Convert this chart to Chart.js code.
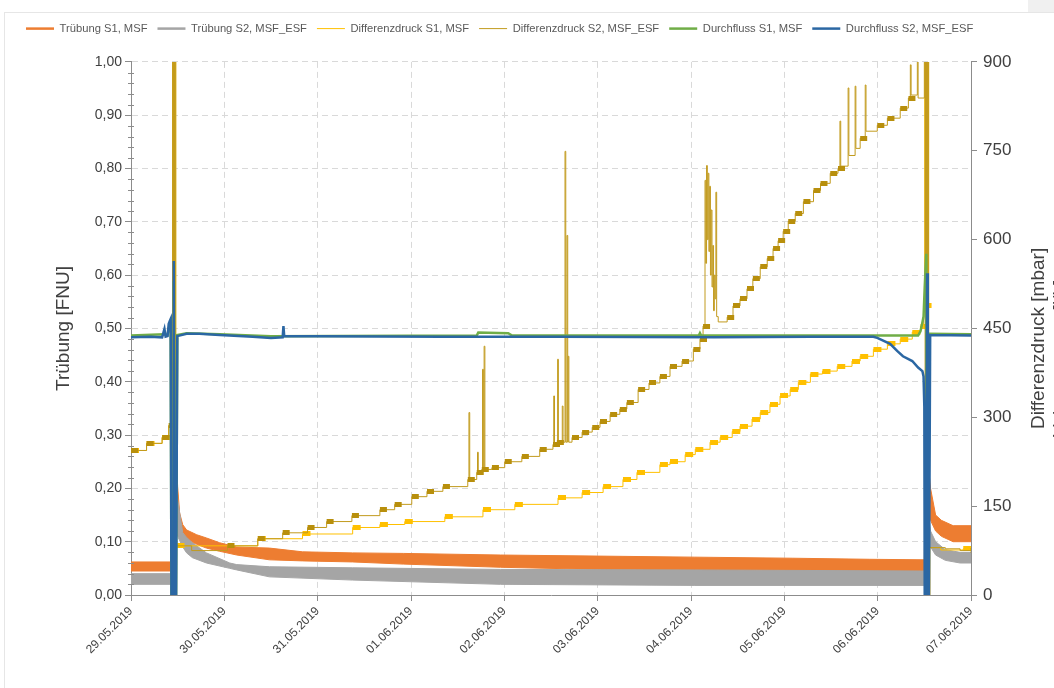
<!DOCTYPE html>
<html>
<head>
<meta charset="utf-8">
<script src="https://cdn.jsdelivr.net/npm/chart.js@4.4.1/dist/chart.umd.min.js"></script>
<style>
  html, body { margin: 0; padding: 0; background: #fff; overflow: hidden; }
  #wrap { position: absolute; left: 0; top: 0; width: 1054px; height: 688px; }
  #frame { position: absolute; left: 4px; top: 12px; width: 1100px; height: 700px;
           border-left: 1px solid #e6e6e6; border-top: 1px solid #e6e6e6; pointer-events: none; }
  #corner { position: absolute; left: 1028px; top: 0; width: 26px; height: 12px; background: #f0f0f0; }
</style>
</head>
<body>
<div id="wrap"><canvas id="c"></canvas></div>
<div id="frame"></div><div id="corner"></div>
<script>
// ---------- labels ----------
const dateLabels = ['29.05.2019','30.05.2019','31.05.2019','01.06.2019','02.06.2019',
                    '03.06.2019','04.06.2019','05.06.2019','06.06.2019','07.06.2019'];
const fnuLabels = ['0,00','0,10','0,20','0,30','0,40','0,50','0,60','0,70','0,80','0,90','1,00'];
const rightTitles = ['Differenzdruck [mbar]', 'Volumenstrom [l/h]'];

// ---------- data (x = hours since 29.05.2019 00:00) ----------
// Trübung S1 (band: upper / lower envelope of the noisy signal) [FNU]
const truebS1Hours = [0,10.5,10.7,11.7,12.0,12.5,13.3,14.3,16.9,19.4,22.8,27.2,35.6,44.1,57.0,70.0,95.0,120.0,145.0,170.0,190.0,204.0,204.3,205.6,206.9,208.4,211.4,216.0];
const truebS1Upper = [0.062,0.062,0.35,0.25,0.203,0.154,0.132,0.122,0.113,0.107,0.098,0.090,0.088,0.081,0.079,0.078,0.075,0.073,0.071,0.069,0.067,0.066,0.30,0.20,0.15,0.14,0.13,0.13];
const truebS1Lower = [0.045,0.045,0.10,0.15,0.14,0.12,0.11,0.104,0.095,0.088,0.082,0.075,0.066,0.064,0.062,0.058,0.052,0.048,0.046,0.045,0.044,0.044,0.15,0.14,0.12,0.11,0.10,0.10];

// Trübung S2 [FNU]
const truebS2Hours = [0,10.5,10.7,11.7,12.0,13.3,14.3,15.8,19.4,25.4,27.2,35.6,57.0,95.0,145.0,204.0,204.3,205.6,206.9,209.4,213.2,216.0];
const truebS2Upper = [0.040,0.040,0.25,0.25,0.179,0.117,0.108,0.098,0.079,0.060,0.057,0.053,0.051,0.048,0.047,0.045,0.20,0.12,0.10,0.085,0.08,0.08];
const truebS2Lower = [0.020,0.020,0.08,0.12,0.11,0.09,0.079,0.070,0.060,0.050,0.047,0.034,0.028,0.020,0.018,0.018,0.08,0.09,0.075,0.065,0.06,0.06];

// Differenzdruck S1 [mbar]  (hour, value)
const dpS1 = [
 [0,244],[4.0,256],[8.0,266],[9.7,286],[10.7,1000],[10.9,0],[11.0,1000],[11.2,0],[11.3,1000],[11.5,0],[11.7,83],
 [32.6,95],[44.1,103],[57.0,114],[64.0,119],[70.4,124],[80.7,132],[90.5,144],[98.7,153],[109.8,164],
 [116.0,173],[121.4,183],[126.5,195],[130.1,207],[136.0,220],[138.6,225],[142.5,237],[145.1,246],
 [148.9,258],[151.5,266],[154.6,276],[156.6,285],[159.7,297],[161.8,308],[164.3,322],[166.9,336],
 [169.5,347],[171.6,359],[174.7,373],[177.8,378],[181.6,386],[185.4,395],[187.5,403],[190.9,415],
 [194.5,424],[197.8,432],[200.9,444],[203.0,454],[203.8,488],[204.1,1000],[204.3,0],[204.4,1000],
 [204.6,0],[204.7,1000],[205.1,0],[205.4,80],[208.2,76],[214.0,78],[215.9,78]
];

// Differenzdruck S2 [mbar]
const dpS2 = [
 [0,244],[4.0,256],[8.0,266],[9.7,286],[10.7,1000],[10.9,0],[11.0,1000],[11.2,0],[11.3,1000],[11.5,0],[11.7,83],
 [15.6,75],[24.8,83],[32.6,95],[39.0,105],[45.4,114],[50.3,124],[56.8,134],[64.0,144],[67.8,153],
 [72.2,166],[76.1,175],[80.2,183],
 [86.6,195],[86.9,308],[87.1,195],[88.9,207],[89.1,241],[89.3,207],[90.2,212],[90.4,381],[90.6,212],
 [90.8,420],[91.0,212],[92.8,215],[96.1,225],[100.5,234],[105.1,246],[108.5,254],[108.7,336],[108.9,254],
 [109.5,258],[109.7,398],[109.9,258],[110.9,319],[111.1,258],[111.6,749],[111.8,258],[112.1,607],
 [112.3,258],[112.4,403],[112.6,258],
 [113.4,266],[116.0,275],[118.6,283],[120.6,293],[123.2,305],[125.7,314],[127.5,325],[130.4,347],
 [133.2,358],[136.0,369],[138.6,386],[141.7,395],[144.6,415],[146.3,432],[147.1,454],
 [147.6,700],[147.8,560],[148.0,725],[148.2,600],[148.4,712],[148.6,580],[148.8,690],[149.0,540],
 [149.2,650],[149.4,520],[149.6,590],[149.8,480],[150.0,540],[150.2,500],[150.4,680],[150.6,470],
 [151.0,461],[153.3,469],[154.8,488],[156.6,500],[158.4,517],[159.9,534],[161.8,554],[163.6,568],
 [165.1,585],[166.4,598],[167.7,614],[169.0,631],[170.8,644],[172.9,664],[175.5,683],[177.3,695],
 [179.8,712],[181.8,720],
 [182.3,800],[182.5,724],[184.4,856],[184.6,742],[186.2,859],[186.4,754],[187.5,771],[188.8,861],[189.0,783],
 [191.9,793],[194.5,805],[197.8,822],[199.9,839],[200.4,895],[200.6,844],[202.2,900],[202.4,839],
 [204.0,1000],[204.2,0],[204.3,1000],[204.5,0],[204.6,1000],[204.8,0],[204.9,1000],[205.1,0],
 [205.4,80],[209.4,78],[213.2,75],[215.9,75]
];

// Durchfluss S1 [l/h]
const flowS1 = [
 [0,438],[8.6,440],[9.4,439],[9.7,450],[10.2,460],[10.4,0],[10.9,0],[11.0,530],[11.3,0],[11.6,0],
 [11.9,439],[14.3,442],[22.8,440],[36.0,437],[88.9,438],[89.3,443],[97.0,442],[98.0,438],
 [146.0,438],[146.3,442],[146.6,438],[190.0,438],[202.4,438],[203.0,445],[203.5,460],[203.8,470],
 [204.1,520],[204.5,576],[204.7,0],[205.0,0],[205.3,441],[216.0,440]
];

// Durchfluss S2 [l/h]
const flowS2 = [
 [0,435],[5.0,436],[8.0,435],[8.6,449],[8.9,436],[9.4,437],[9.7,458],[10.0,463],[10.2,466],
 [10.4,0],[10.8,0],[11.0,564],[11.2,0],[11.6,0],[11.9,437],[14.3,441],[17.6,441],[22.8,439],
 [31.3,436],[36.0,434],[39.0,435],[39.2,454],[39.4,437],[48.5,437],[80.0,436],[110.0,436],
 [150.0,435],[175.0,436],[190.9,436],[191.9,434],[195.2,424],[197.0,412],[198.5,403],[200.9,395],
 [202.4,384],[203.5,378],[203.8,369],[204.0,318],[204.1,0],[204.5,0],[204.7,543],[204.9,0],
 [205.2,0],[205.5,439],[216.0,438]
];

// ---------- styles ----------
const COLORS = { orange:'#ED7D31', gray:'#A5A5A5', yellow:'#FFC000', gold:'#C29B1E',
                 green:'#70AD47', blue:'#2B67A3', axis:'#8C8C8C', grid:'#D9D9D9', text:'#404040' };
const FONT = '"Liberation Sans", Arial, Helvetica, sans-serif';
Chart.defaults.font.family = FONT;
Chart.defaults.color = COLORS.text;

const toXY = (hours, vals) => hours.map((h, i) => ({ x: h, y: vals[i] }));
const pairs = arr => arr.map(p => ({ x: p[0], y: p[1] }));

function rectMarker(color, w, h) {
  const c = document.createElement('canvas');
  c.width = 2 * w + 2; c.height = h;
  const g = c.getContext('2d');
  g.fillStyle = color;
  g.fillRect(w + 1, 0, w, h);
  return c;
}
function stepMarkerRadius(ctx) {
  const d = ctx.dataset.data, i = ctx.dataIndex;
  if (i === 0) return 3;
  const cur = d[i].y, prev = d[i - 1].y;
  const next = i + 1 < d.length ? d[i + 1].y : cur;
  const ok = (cur >= prev || prev === 0) && (cur - prev < 40 || prev === 0) && next >= cur - 0.5;
  return ok ? 3 : 0;
}

const datasets = [
  { label:'Trübung S1, MSF', data: toXY(truebS1Hours, truebS1Upper), yAxisID:'y',
    borderColor: COLORS.orange, backgroundColor: COLORS.orange, borderWidth: 1, pointRadius: 0,
    fill: false, order: 6, legendWidth: 2.5 },
  { label:'Trübung S1, MSF (min)', data: toXY(truebS1Hours, truebS1Lower), yAxisID:'y',
    borderColor: COLORS.orange, backgroundColor: COLORS.orange, borderWidth: 1, pointRadius: 0,
    fill: '-1', order: 6, legendHidden: true },
  { label:'Trübung S2, MSF_ESF', data: toXY(truebS2Hours, truebS2Upper), yAxisID:'y',
    borderColor: COLORS.gray, backgroundColor: COLORS.gray, borderWidth: 1, pointRadius: 0,
    fill: false, order: 5, legendWidth: 2.5 },
  { label:'Trübung S2, MSF_ESF (min)', data: toXY(truebS2Hours, truebS2Lower), yAxisID:'y',
    borderColor: COLORS.gray, backgroundColor: COLORS.gray, borderWidth: 1, pointRadius: 0,
    fill: '-1', order: 5, legendHidden: true },
  { label:'Differenzdruck S1, MSF', data: pairs(dpS1), yAxisID:'yP',
    borderColor: COLORS.yellow, backgroundColor: COLORS.yellow, borderWidth: 1, stepped: 'before',
    pointStyle: rectMarker(COLORS.yellow, 8, 5), pointRadius: stepMarkerRadius, fill: false, order: 4 },
  { label:'Differenzdruck S2, MSF_ESF', data: pairs(dpS2), yAxisID:'yP',
    borderColor: COLORS.gold, backgroundColor: COLORS.gold, borderWidth: 1, stepped: 'before',
    pointStyle: rectMarker('#B88F0C', 7, 5), pointRadius: stepMarkerRadius, fill: false, order: 3 },
  { label:'Durchfluss S1, MSF', data: pairs(flowS1), yAxisID:'yQ',
    borderColor: COLORS.green, backgroundColor: COLORS.green, borderWidth: 2.5, pointRadius: 0,
    fill: false, order: 2 },
  { label:'Durchfluss S2, MSF_ESF', data: pairs(flowS2), yAxisID:'yQ',
    borderColor: COLORS.blue, backgroundColor: COLORS.blue, borderWidth: 2.5, pointRadius: 0,
    fill: false, order: 1 }
];

const LEGEND_EXTRA = 17.7;
const LEGEND_LEFT = 16;

const layoutTweak = {
  id: 'layoutTweak',
  beforeLayout(chart) {
    const lg = chart.legend;
    if (lg && !lg.__tweaked) {
      const fit = lg.fit;
      lg.fit = function () { fit.call(this); this.height += LEGEND_EXTRA; };
      lg.__tweaked = true;
    }
  },
  afterLayout(chart) {
    if (chart.legend) chart.legend.left = LEGEND_LEFT;
  }
};

const extras = {
  id: 'extras',
  afterDraw(chart) {
    const { ctx, chartArea, scales } = chart;
    const y = scales.y;
    ctx.save();
    ctx.strokeStyle = COLORS.axis;
    ctx.lineWidth = 1;
    for (let k = 0; k <= 50; k++) {
      if (k % 5 === 0) continue;
      const py = Math.round(y.getPixelForValue(k / 50)) + 0.5;
      ctx.beginPath();
      ctx.moveTo(chartArea.left - 3, py);
      ctx.lineTo(chartArea.left + 3, py);
      ctx.stroke();
    }
    ctx.fillStyle = COLORS.text;
    ctx.font = '19px ' + FONT;
    ctx.textAlign = 'center';
    ctx.textBaseline = 'middle';
    const cy = (chartArea.top + chartArea.bottom) / 2 + 10;
    [[rightTitles[0], 1039, cy], [rightTitles[1], 1061, cy + 20]].forEach(([t, x, yy]) => {
      ctx.save(); ctx.translate(x, yy); ctx.rotate(-Math.PI / 2); ctx.fillText(t, 0, 0); ctx.restore();
    });
    ctx.restore();
  }
};

new Chart(document.getElementById('c'), {
  type: 'line',
  data: { datasets },
  plugins: [layoutTweak, extras],
  options: {
    responsive: true,
    maintainAspectRatio: false,
    animation: false,
    events: [],
    layout: { padding: { top: 13, left: 0, right: 0, bottom: 0 } },
    elements: { line: { tension: 0 } },
    plugins: {
      tooltip: { enabled: false },
      legend: {
        position: 'top',
        align: 'start',
        labels: {
          usePointStyle: true, pointStyle: 'line', pointStyleWidth: 28, padding: 10,
          color: '#595959', font: { size: 11.2 },
          generateLabels(chart) {
            const items = Chart.defaults.plugins.legend.labels.generateLabels(chart);
            return items.filter(it => !chart.data.datasets[it.datasetIndex].legendHidden)
              .sort((a, b) => a.datasetIndex - b.datasetIndex)
              .map(it => {
                const ds = chart.data.datasets[it.datasetIndex];
                it.pointStyle = 'line';
                if (ds.legendWidth) it.lineWidth = ds.legendWidth;
                return it;
              });
          }
        }
      }
    },
    scales: {
      x: {
        type: 'linear', min: 0, max: 216,
        afterFit: s => { s.height = 93; },
        ticks: { stepSize: 24, autoSkip: false, minRotation: 45, maxRotation: 45,
                 font: { size: 12 }, color: COLORS.text,
                 callback: v => dateLabels[Math.round(v / 24)] },
        grid: { color: COLORS.grid, tickColor: COLORS.axis, tickLength: 6 },
        border: { color: COLORS.axis, dash: [6, 4] }
      },
      y: {
        position: 'left', min: 0, max: 1,
        afterFit: s => { s.width = 131; },
        ticks: { stepSize: 0.1, font: { size: 14 }, color: COLORS.text, padding: 3,
                 callback: v => fnuLabels[Math.round(v * 10)] },
        grid: { color: COLORS.grid, tickColor: COLORS.axis, tickLength: 6 },
        border: { color: COLORS.axis, dash: [6, 4] },
        title: { display: true, text: 'Trübung [FNU]', font: { size: 19 }, color: COLORS.text,
                 padding: { top: 52, bottom: 0 } }
      },
      yP: {
        position: 'right', min: 0, max: 900,
        afterFit: s => { s.width = 83; },
        ticks: { stepSize: 150, font: { size: 17 }, color: COLORS.text, padding: 6 },
        grid: { drawOnChartArea: false, tickColor: COLORS.axis, tickLength: 6 },
        border: { color: COLORS.axis }
      },
      yQ: { position: 'right', min: 0, max: 900, display: false }
    }
  }
});
</script>
</body>
</html>
